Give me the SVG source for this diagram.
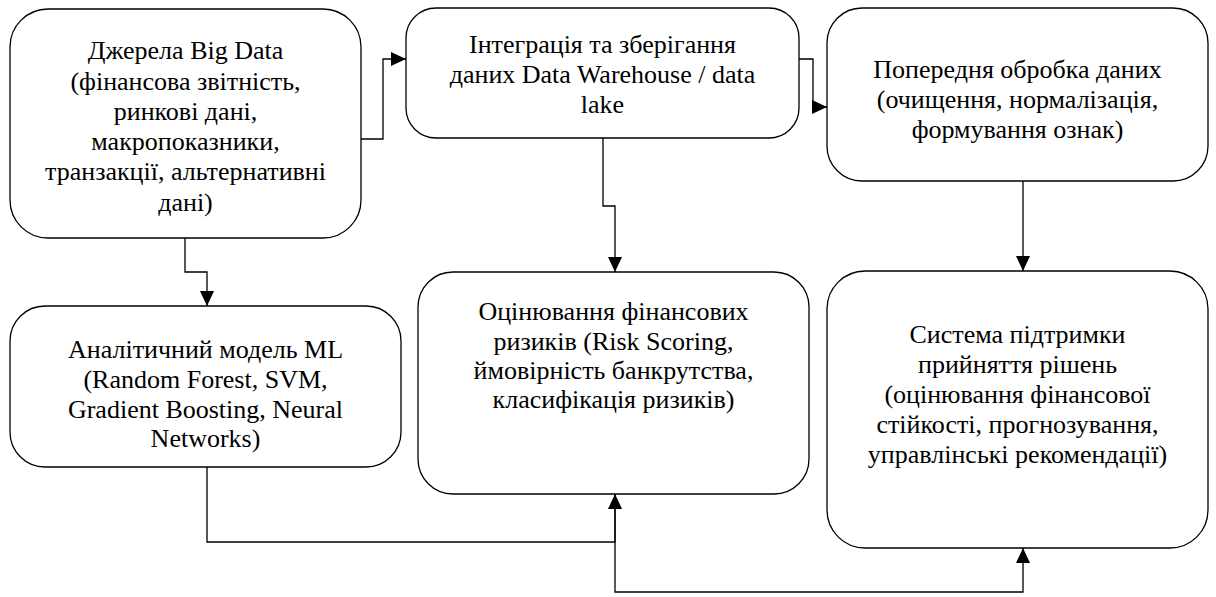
<svg xmlns="http://www.w3.org/2000/svg" width="1216" height="597" viewBox="0 0 1216 597">
<style>
.box{fill:#ffffff;stroke:#000000;stroke-width:1.3}
text{font-family:'Liberation Serif','Times New Roman','DejaVu Serif',serif;font-size:26px;fill:#000000;text-anchor:middle}
.edge{fill:none;stroke:#000000;stroke-width:1.3}
</style>
<defs>
<marker id="arr" markerUnits="userSpaceOnUse" markerWidth="16" markerHeight="15" refX="15" refY="7" orient="auto">
<path d="M0,0 L15,7 L0,14 z" fill="#000000"/>
</marker>
</defs>
<rect width="1216" height="597" fill="#ffffff"/>
<g id="connectors">
<path class="edge" d="M361,139 H383 V59 H406" marker-end="url(#arr)"/>
<path class="edge" d="M799,59 H813 V107 H827" marker-end="url(#arr)"/>
<path class="edge" d="M185,238 V272 H207 V306" marker-end="url(#arr)"/>
<path class="edge" d="M603,138 V206 H615 V272" marker-end="url(#arr)"/>
<path class="edge" d="M1023,181 V271" marker-end="url(#arr)"/>
<path class="edge" d="M207,467 V542 H615 V494" marker-end="url(#arr)"/>
<path class="edge" d="M615,494 V592 H1023 V548" marker-end="url(#arr)"/>
</g>
<g id="node-sources">
<rect class="box" x="10" y="9" width="351" height="229" rx="38" ry="38"/>
<text x="185.5" y="59">Джерела Big Data</text>
<text x="185.5" y="89.5">(фінансова звітність,</text>
<text x="185.5" y="120">ринкові дані,</text>
<text x="185.5" y="150">макропоказники,</text>
<text x="185.5" y="180">транзакції, альтернативні</text>
<text x="185.5" y="210.5">дані)</text>
</g>
<g id="node-integration">
<rect class="box" x="406" y="8" width="393" height="130" rx="30" ry="30"/>
<text x="602.5" y="53">Інтеграція та зберігання</text>
<text x="602.5" y="83">даних Data Warehouse / data</text>
<text x="602.5" y="113">lake</text>
</g>
<g id="node-preprocessing">
<rect class="box" x="827" y="8" width="381" height="173" rx="35" ry="35"/>
<text x="1017.5" y="78">Попередня обробка даних</text>
<text x="1017.5" y="108">(очищення, нормалізація,</text>
<text x="1017.5" y="138">формування ознак)</text>
</g>
<g id="node-ml">
<rect class="box" x="10" y="306" width="391" height="161" rx="35" ry="35"/>
<text x="205.5" y="358">Аналітичний модель ML</text>
<text x="205.5" y="388">(Random Forest, SVM,</text>
<text x="205.5" y="418">Gradient Boosting, Neural</text>
<text x="205.5" y="447">Networks)</text>
</g>
<g id="node-risk">
<rect class="box" x="418" y="272" width="391" height="222" rx="35" ry="35"/>
<text x="613.5" y="320">Оцінювання фінансових</text>
<text x="613.5" y="350">ризиків (Risk Scoring,</text>
<text x="613.5" y="379">ймовірність банкрутства,</text>
<text x="613.5" y="408">класифікація ризиків)</text>
</g>
<g id="node-dss">
<rect class="box" x="827" y="271" width="381" height="277" rx="38" ry="38"/>
<text x="1017.5" y="343">Система підтримки</text>
<text x="1017.5" y="373">прийняття рішень</text>
<text x="1017.5" y="403">(оцінювання фінансової</text>
<text x="1017.5" y="433">стійкості, прогнозування,</text>
<text x="1017.5" y="463">управлінські рекомендації)</text>
</g>
</svg>
